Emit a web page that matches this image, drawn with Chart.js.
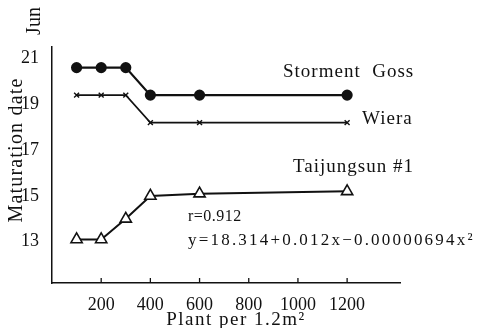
<!DOCTYPE html>
<html>
<head>
<meta charset="utf-8">
<script src="https://cdn.jsdelivr.net/npm/chart.js@4.4.1/dist/chart.umd.min.js"></script>
<style>
  html, body { margin: 0; padding: 0; background: #fff; }
  canvas { display: block; }
</style>
</head>
<body>
<canvas id="grafico" width="477" height="328"></canvas>
<script>
// plantas por 1.2 m2
var plantas = [100, 200, 300, 400, 600, 1200];

// data de maturação (dia de junho)
var stormentGoss = [20.6, 20.6, 20.6, 19.4, 19.4, 19.4];
var wiera        = [19.4, 19.4, 19.4, 18.2, 18.2, 18.2];
var taijungsun   = [13.1, 13.1, 14.0, 15.0, 15.1, 15.2];

var ticksX = [200, 400, 600, 800, 1000, 1200];
var ticksY = [13, 15, 17, 19, 21];

var SERIF = "'Liberation Serif', 'DejaVu Serif', serif";

function pares(ys) {
  return plantas.map(function (x, i) { return { x: x, y: ys[i] }; });
}

// textos soltos: títulos, rótulos das curvas e a equação
var textosPlugin = {
  id: 'textos',
  afterDraw: function (chart) {
    var ctx = chart.ctx;
    var xs = chart.scales.x;
    ctx.save();
    ctx.fillStyle = '#111';

    // tracinhos do eixo x para dentro
    ctx.strokeStyle = '#111';
    ctx.lineWidth = 1.3;
    xs.ticks.forEach(function (t) {
      var px = xs.getPixelForValue(t.value);
      ctx.beginPath();
      ctx.moveTo(px, xs.top);
      ctx.lineTo(px, xs.top - 5);
      ctx.stroke();
    });

    ctx.textBaseline = 'middle';
    ctx.textAlign = 'left';

    ctx.font = '19px ' + SERIF;
    ctx.letterSpacing = '1px';
    ctx.fillText('Storment  Goss', 283, 72);
    ctx.fillText('Wiera', 362, 119);
    ctx.fillText('Taijungsun #1', 293, 167);

    ctx.font = '16px ' + SERIF;
    ctx.letterSpacing = '0.5px';
    ctx.fillText('r=0.912', 188, 217);
    ctx.font = '17px ' + SERIF;
    ctx.letterSpacing = '2.2px';
    ctx.fillText('y=18.314+0.012x\u22120.00000694x\u00b2', 188, 241);

    ctx.textAlign = 'center';
    ctx.font = '19px ' + SERIF;
    ctx.letterSpacing = '1.5px';
    ctx.fillText('Plant per 1.2m\u00b2', 236, 320);

    // títulos verticais
    ctx.save();
    ctx.translate(17, 150);
    ctx.rotate(-Math.PI / 2);
    ctx.font = '20px ' + SERIF;
    ctx.letterSpacing = '1.2px';
    ctx.fillText('Maturation date', 0, 0);
    ctx.restore();

    ctx.save();
    ctx.translate(35, 21);
    ctx.rotate(-Math.PI / 2);
    ctx.font = '20px ' + SERIF;
    ctx.letterSpacing = '0px';
    ctx.fillText('Jun', 0, 0);
    ctx.restore();

    ctx.restore();
  }
};

Chart.defaults.font.family = SERIF;
Chart.defaults.color = '#111';

function semFormato(v) { return String(v); }

new Chart(document.getElementById('grafico'), {
  type: 'line',
  data: {
    datasets: [
      {
        label: 'Storment Goss',
        data: pares(stormentGoss),
        borderColor: '#111',
        backgroundColor: '#111',
        borderWidth: 2.2,
        pointStyle: 'circle',
        pointRadius: 4.5,
        tension: 0
      },
      {
        label: 'Wiera',
        data: pares(wiera),
        borderColor: '#111',
        backgroundColor: '#111',
        borderWidth: 1.6,
        pointStyle: 'crossRot',
        pointRadius: 3.5,
        pointBorderWidth: 1.4,
        tension: 0
      },
      {
        label: 'Taijungsun #1',
        data: pares(taijungsun),
        borderColor: '#111',
        backgroundColor: '#fff',
        borderWidth: 2,
        pointStyle: 'triangle',
        pointRadius: 6.5,
        pointBorderWidth: 1.6,
        tension: 0
      }
    ]
  },
  options: {
    responsive: false,
    animation: false,
    layout: { padding: { top: 47, right: 77, left: 0, bottom: 0 } },
    plugins: {
      legend: { display: false },
      tooltip: { enabled: false }
    },
    scales: {
      x: {
        type: 'linear',
        min: 0,
        max: 1415,
        afterBuildTicks: function (s) {
          s.ticks = ticksX.map(function (v) { return { value: v }; });
        },
        afterFit: function (s) { s.height = 45; },
        grid: { display: false },
        border: { color: '#111', width: 1.5 },
        ticks: {
          padding: 3,
          maxRotation: 0,
          autoSkip: false,
          color: '#111',
          font: { size: 18 },
          callback: semFormato
        }
      },
      y: {
        type: 'linear',
        min: 11.2,
        max: 21.5,
        afterBuildTicks: function (s) {
          s.ticks = ticksY.map(function (v) { return { value: v }; });
        },
        afterFit: function (s) { s.width = 52; },
        grid: { display: false },
        border: { color: '#111', width: 1.5 },
        ticks: {
          padding: 5,
          autoSkip: false,
          color: '#111',
          font: { size: 18 },
          callback: semFormato
        }
      }
    }
  },
  plugins: [textosPlugin]
});
</script>
</body>
</html>
